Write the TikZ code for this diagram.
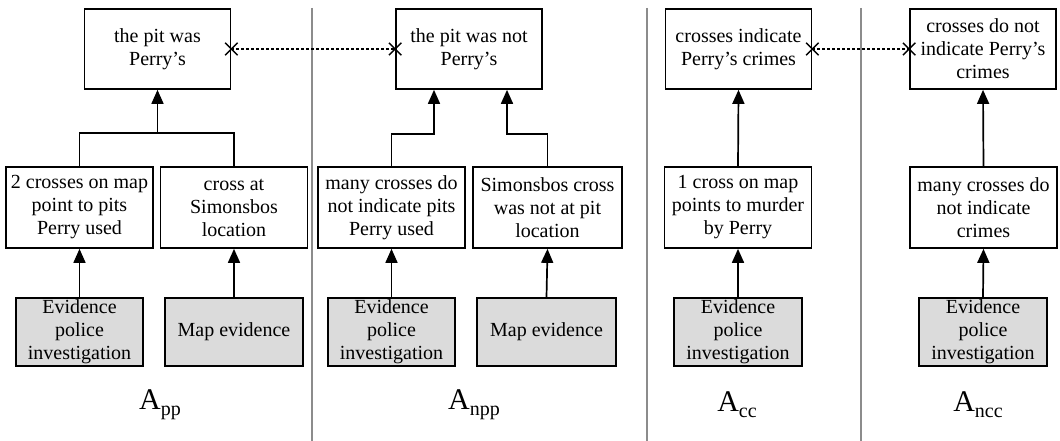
\documentclass[tikz,border=0pt]{standalone}
\usepackage{fontspec}
\setmainfont{Liberation Serif}
\usetikzlibrary{arrows.meta,shapes.misc}
\begin{document}
\begin{tikzpicture}[x=1pt,y=-1pt,
  every node/.style={font=\fontsize{20}{23}\selectfont, align=center, inner sep=0pt},
  claim/.style={draw, line width=1.7pt, minimum width=146pt, minimum height=80pt},
  premise/.style={draw, line width=1.7pt, minimum width=147pt, minimum height=81pt},
  evid/.style={draw, line width=1.7pt, fill=black!14, minimum height=68pt},
  support/.style={line width=1.7pt, -{Triangle[length=14pt,width=12pt]}},
  link/.style={line width=1.7pt},
  attack/.style={line width=1.5pt, dash pattern=on 3pt off 2pt},
  xmark/.style={cross out, draw, line width=1.4pt, minimum size=11pt},
  sep/.style={draw=black!45, line width=1.3pt},
  arglabel/.style={font=\fontsize{30}{30}\selectfont}
]
\useasboundingbox (0,0) rectangle (1060,441);

% column separators
\draw[sep] (312,8) -- (312,441);
\draw[sep] (647,8) -- (647,441);
\draw[sep] (861,8) -- (861,441);

% conclusions
\node[claim] (t1) at (157.5,49) {the pit was\\Perry’s};
\node[claim] (t2) at (469,49) {the pit was not\\Perry’s};
\node[claim] (t3) at (738.5,49) {crosses indicate\\Perry’s crimes};
\node[claim] (t4) at (983,49) {crosses do not\\indicate Perry’s\\crimes};

% premises
\node[premise] (m1) at (79.5,207.5) {2 crosses on map\\point to pits\\Perry used};
\node[premise] (m2) at (234,207.5) {cross at\\Simonsbos\\location};
\node[premise] (m3) at (391.5,207.5) {many crosses do\\not indicate pits\\Perry used};
\node[premise, minimum width=149pt] (m4) at (547.5,207.5) {Simonsbos cross\\was not at pit\\location};
\node[premise] (m5) at (738,207.5) {1 cross on map\\points to murder\\by Perry};
\node[premise] (m6) at (983.5,207.5) {many crosses do\\not indicate\\crimes};

% evidence
\node[evid, minimum width=127pt] (g1) at (79.5,332) {Evidence\\police\\investigation};
\node[evid, minimum width=138pt] (g2) at (234,332) {Map evidence};
\node[evid, minimum width=127pt] (g3) at (391.5,332) {Evidence\\police\\investigation};
\node[evid, minimum width=139pt] (g4) at (546.5,332) {Map evidence};
\node[evid, minimum width=128pt] (g5) at (738,332) {Evidence\\police\\investigation};
\node[evid, minimum width=128pt] (g6) at (983,332) {Evidence\\police\\investigation};

% evidence supports premises
\foreach \a/\b in {g1/m1,g2/m2,g3/m3,g4/m4,g5/m5,g6/m6}
  \draw[support] (\a.north) -- (\b.south);

% A_pp: linked premises
\coordinate (j1) at (157.5,133);
\draw[link] (m1.north) |- (j1);
\draw[link] (m2.north) |- (j1);
\draw[support] (j1) -- (t1.south);

% A_npp: two separate supports
\draw[support] (m3.north) -- ++(0,-32) -| ([xshift=-35pt]t2.south);
\draw[support] (m4.north) -- ++(0,-32) -| ([xshift=38pt]t2.south);

% A_cc and A_ncc
\draw[support] (m5.north) -- (t3.south);
\draw[support] (m6.north) -- (t4.south);

% rebuttals between conclusions
\draw[attack] (t1.east) -- (t2.west);
\draw[attack] (t3.east) -- (t4.west);
\node[xmark] (x1) at (t1.east) {};
\node[xmark] (x2) at (t2.west) {};
\node[xmark] (x3) at (t3.east) {};
\node[xmark] (x4) at (t4.west) {};

% argument names
\node[arglabel] (l1) at (160,405) {A\raisebox{-6pt}{\fontsize{20}{20}\selectfont pp}};
\node[arglabel] (l2) at (474,405) {A\raisebox{-6pt}{\fontsize{20}{20}\selectfont npp}};
\node[arglabel] (l3) at (737,405) {A\raisebox{-6pt}{\fontsize{20}{20}\selectfont cc}};
\node[arglabel] (l4) at (978,405) {A\raisebox{-6pt}{\fontsize{20}{20}\selectfont ncc}};
\end{tikzpicture}
\end{document}
